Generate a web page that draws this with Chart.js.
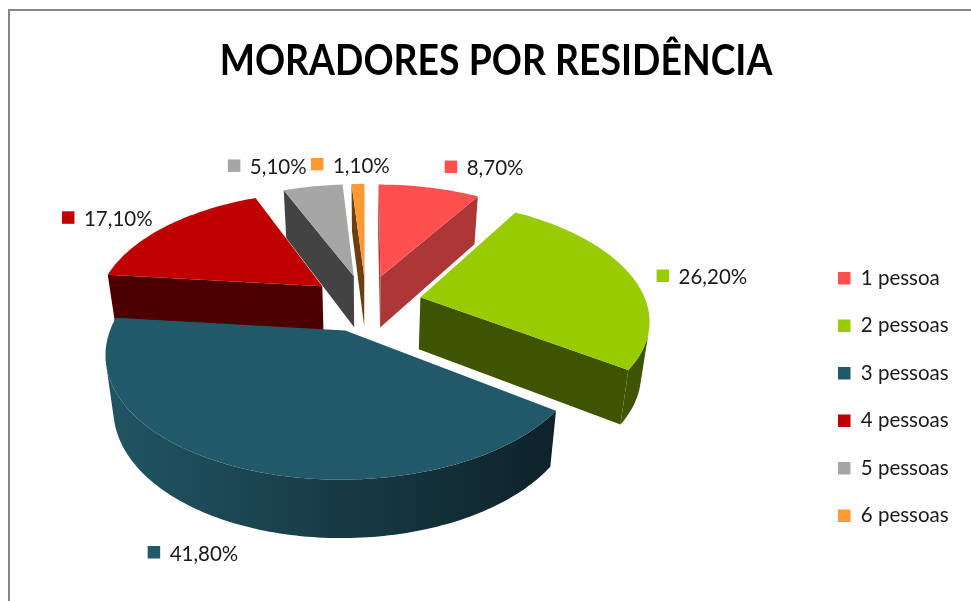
<!DOCTYPE html>
<html><head><meta charset="utf-8">
<style>
html,body{margin:0;padding:0;background:#fff;overflow:hidden}
#wrap{position:absolute;left:0;top:0;width:971px;height:601px}
#frame{position:absolute;left:8px;top:9px;width:963px;height:592px;border-left:2px solid #868686;border-top:2px solid #868686;box-sizing:border-box}
canvas{position:absolute;left:0;top:0}
</style>
<script src="https://cdn.jsdelivr.net/npm/chart.js@4/dist/chart.umd.min.js"></script>
</head><body>
<div id="wrap"><div id="frame"></div><canvas id="c" width="971" height="601"></canvas></div>
<script>
const categories = ["1 pessoa","2 pessoas","3 pessoas","4 pessoas","5 pessoas","6 pessoas"];
const shares = [8.7,26.2,41.8,17.1,5.1,1.1];
const shareLabels = ["8,70%","26,20%","41,80%","17,10%","5,10%","1,10%"];
const topColors = ["#FF5050","#99CC00","#215968","#C00000","#A6A6A6","#FF9933"];
const faceColors = ["#AD3636","#3F5400","#16404B","#4D0000","#434343","#6B4010"];
const rimStart = ["#AD3636","#3F5400","#215564","#4D0000","#434343","#6B4010"];
const rimEnd   = ["#AD3636","#3F5400","#0E2229","#4D0000","#434343","#6B4010"];
const labelNudge = [[21.5,-21],[31.5,0],[-87,84],[-98,-9],[-79,-21],[-41,-20]];

const view = {cx:366, cy:303, squash:0.508, perspX:0.17, perspY:0.162, depth:52, shrink:0.97};
function project(r,u,v,low){
  const fx = 1/(1-view.perspX*v), fy = 1/(1-view.perspY*v);
  let x = r*u*fx, y = r*view.squash*v*fy;
  if(low){ x*=view.shrink; y+=view.depth*Math.sqrt(fx); }
  return [view.cx+x, view.cy+y];
}
function poly(ctx,pts){ctx.beginPath();pts.forEach((p,i)=>i?ctx.lineTo(p[0],p[1]):ctx.moveTo(p[0],p[1]));ctx.closePath();}
function area(pts){let s=0;for(let i=0;i<pts.length;i++){const a=pts[i],b=pts[(i+1)%pts.length];s+=a[0]*b[1]-b[0]*a[1];}return s;}

const pie3d = {
  id:'pie3d',
  afterLayout(chart){
    const l=chart.legend, pad=l.options.labels.padding;
    const dx=838-(l.left+pad), dy=268-(l.top+pad);
    l.left+=dx;l.right+=dx;l.top+=dy;l.bottom+=dy;
    const tb=chart.titleBlock;
    if(!tb._narrow){
      tb._narrow=true;
      const draw=tb.draw.bind(tb);
      tb.draw=function(){
        const ctx=chart.ctx, mid=(tb.left+tb.right)/2;
        ctx.save();ctx.translate(mid,0);ctx.scale(0.889,1);ctx.translate(-mid,0);
        draw();ctx.restore();
      };
    }
  },
  beforeDatasetsDraw(chart){
    const ctx=chart.ctx, arcs=chart.getDatasetMeta(0).data;
    const order=arcs.map((a,i)=>i).sort((p,q)=>{
      const m=a=>Math.sin((a.startAngle+a.endAngle)/2);
      return m(arcs[p])-m(arcs[q]);
    });
    ctx.save();
    order.forEach(i=>{
      const a=arcs[i], R=a.outerRadius, off=a.options.offset/R;
      const mid=(a.startAngle+a.endAngle)/2;
      const ox=Math.cos(mid)*off, oy=Math.sin(mid)*off;
      const n=Math.max(4,Math.ceil((a.endAngle-a.startAngle)/0.02));
      const rim=[];
      for(let k=0;k<=n;k++){const t=a.startAngle+(a.endAngle-a.startAngle)*k/n;rim.push([ox+Math.cos(t),oy+Math.sin(t)]);}
      const T=p=>project(R,p[0],p[1],false), B=p=>project(R,p[0],p[1],true);
      const apex=[ox,oy];
      // radial faces
      [[apex,rim[0]],[rim[n],apex]].forEach(([p,q])=>{
        const quad=[T(p),T(q),B(q),B(p)];
        if(area(quad)<0){poly(ctx,quad);ctx.fillStyle=faceColors[i];ctx.fill();}
      });
      // outer wall: one polygon over the segments that face the viewer
      const seen=[];
      for(let k=0;k<n;k++){
        if(area([T(rim[k]),T(rim[k+1]),B(rim[k+1]),B(rim[k])])<0){
          if(!seen.length)seen.push(rim[k]);
          seen.push(rim[k+1]);
        }
      }
      if(seen.length){
        const pts=[...seen.map(T),...seen.slice().reverse().map(B)];
        const xs=pts.map(p=>p[0]);
        const g=ctx.createLinearGradient(Math.min(...xs),0,Math.max(...xs),0);
        g.addColorStop(0,rimStart[i]);g.addColorStop(1,rimEnd[i]);
        poly(ctx,pts);ctx.fillStyle=g;ctx.fill();
      }
      // top
      poly(ctx,[T(apex),...rim.map(T)]);
      ctx.fillStyle=topColors[i];ctx.fill();
    });
    // value labels
    ctx.textBaseline='middle';ctx.textAlign='left';
    ctx.font='20.5px Lato';
    arcs.forEach((a,i)=>{
      const R=a.outerRadius, off=a.options.offset/R, mid=(a.startAngle+a.endAngle)/2;
      const p=project(R,(1+off)*Math.cos(mid),(1+off)*Math.sin(mid),false);
      const x=p[0]+labelNudge[i][0], y=p[1]+labelNudge[i][1];
      ctx.fillStyle=topColors[i];ctx.fillRect(x-6,y-6,12.5,12.5);
      ctx.fillStyle='#1a1a1a';ctx.fillText(shareLabels[i],x+16,y+2);
    });
    ctx.restore();
    return false;
  }
};

new Chart(document.getElementById('c'),{
  type:'pie',
  data:{labels:categories,datasets:[{data:shares,backgroundColor:topColors,borderWidth:0,offset:56,radius:226}]},
  plugins:[pie3d],
  options:{
    responsive:false,animation:false,
    layout:{padding:{left:21,top:28}},
    plugins:{
      tooltip:{enabled:false},
      title:{display:true,text:'MORADORES POR RESIDÊNCIA',color:'#000',font:{family:'Lato',size:42,weight:'bold'},padding:{top:8,bottom:8}},
      legend:{position:'right',align:'start',labels:{color:'#1a1a1a',font:{family:'Lato',size:20.5},boxWidth:12.5,boxHeight:12.5,padding:27}}
    }
  }
});
</script>
</body></html>
